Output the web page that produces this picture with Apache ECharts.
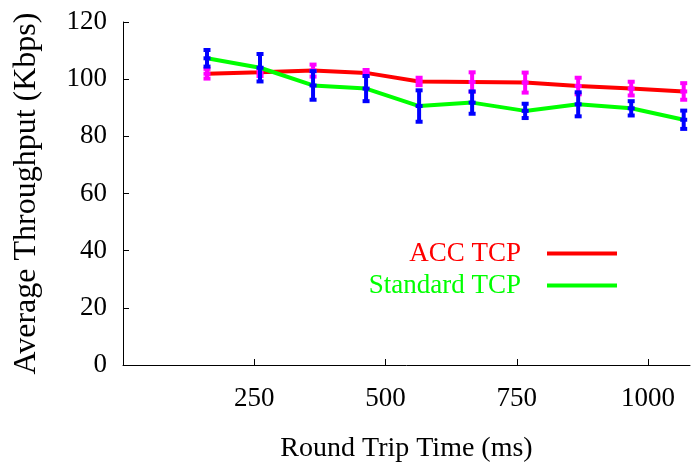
<!DOCTYPE html>
<html>
<head>
<meta charset="utf-8">
<script src="https://cdn.jsdelivr.net/npm/echarts@6/dist/echarts.min.js"></script>
<style>html,body{margin:0;padding:0;background:#fff}#c{width:700px;height:468px}</style>
</head>
<body>
<div id="c"></div>
<script>
// Data
var rtt = [160, 261, 362, 463, 564, 665, 766, 867, 968, 1068];
var accMean = [101.9, 102.4, 103.0, 102.2, 99.2, 99.0, 98.8, 97.6, 96.7, 95.7];
var accErr = [1.7, 1.3, 2.1, 1.0, 1.3, 3.4, 3.5, 2.9, 2.4, 2.9];
var stdMean = [107.3, 104.0, 97.8, 96.7, 90.6, 91.8, 88.9, 91.2, 89.8, 85.8];
var stdErr = [2.9, 4.8, 5.0, 4.4, 5.5, 3.9, 2.5, 4.2, 2.5, 3.2];
var xTicks = [250, 500, 750, 1000];
var seriesNames = ['ACC TCP', 'Standard TCP'];

var FONT = 'Liberation Serif';
var RED = '#ff0000', GREEN = '#00ff00', BLUE = '#0000ff', MAGENTA = '#ff00ff';

function pairs(xs, ys) { return xs.map(function (x, i) { return [x, ys[i]]; }); }
function errData(xs, m, e) { return xs.map(function (x, i) { return [x, m[i] - e[i], m[i] + e[i], m[i]]; }); }
function errRender(color) {
  return function (params, api) {
    var x = api.value(0), lo = api.value(1), hi = api.value(2), mid = api.value(3);
    var a = api.coord([x, lo]), b = api.coord([x, hi]), c = api.coord([x, mid]);
    return {
      type: 'group',
      children: [
        { type: 'line', shape: { x1: a[0], y1: a[1], x2: b[0], y2: b[1] }, style: { stroke: color, lineWidth: 4 } },
        { type: 'rect', shape: { x: a[0] - 3.5, y: a[1] - 2, width: 7, height: 4 }, style: { fill: color } },
        { type: 'rect', shape: { x: b[0] - 3.5, y: b[1] - 2, width: 7, height: 4 }, style: { fill: color } },
        { type: 'rect', shape: { x: c[0] - 3.5, y: c[1] - 2, width: 7, height: 4 }, style: { fill: color } }
      ]
    };
  };
}

var chart = echarts.init(document.getElementById('c'), null, { renderer: 'canvas' });
chart.setOption({
  animation: false,
  backgroundColor: '#ffffff',
  textStyle: { fontFamily: FONT },
  grid: { left: 123, right: 10, top: 22, bottom: 101, containLabel: false },
  legend: {
    orient: 'vertical',
    align: 'right',
    right: 83,
    top: 240,
    padding: 0,
    itemWidth: 70,
    itemHeight: 4,
    itemGap: 5,
    icon: 'rect',
    textStyle: { fontFamily: FONT, fontSize: 27, padding: [0, 21, 0, 0] },
    data: [
      { name: seriesNames[0], textStyle: { color: RED } },
      { name: seriesNames[1], textStyle: { color: GREEN } }
    ]
  },
  xAxis: {
    type: 'value',
    min: 0, max: 1080,
    name: 'Round Trip Time (ms)',
    nameLocation: 'middle',
    nameGap: 70,
    nameTextStyle: { fontFamily: FONT, fontSize: 28, color: '#000' },
    axisLine: { show: true, lineStyle: { color: '#000', width: 1 } },
    axisTick: { show: true, inside: true, length: 6, lineStyle: { color: '#000' }, customValues: xTicks },
    axisLabel: {
      show: true, fontFamily: FONT, fontSize: 27, color: '#000', margin: 20, customValues: xTicks,
      formatter: function (v) { return String(v); }
    },
    splitLine: { show: false }
  },
  yAxis: {
    type: 'value',
    min: 0, max: 120, interval: 20,
    name: 'Average Throughput (Kbps)',
    nameLocation: 'middle',
    nameGap: 80,
    nameRotate: 90,
    nameTextStyle: { fontFamily: FONT, fontSize: 32, color: '#000' },
    axisLine: { show: true, lineStyle: { color: '#000', width: 1 } },
    axisTick: { show: true, inside: true, length: 6, lineStyle: { color: '#000' } },
    axisLabel: { fontFamily: FONT, fontSize: 27, color: '#000', margin: 16, padding: [5, 0, 0, 0] },
    splitLine: { show: false }
  },
  series: [
    {
      name: seriesNames[0], type: 'line', data: pairs(rtt, accMean),
      symbol: 'none', color: RED, lineStyle: { color: RED, width: 4 }, z: 2
    },
    {
      name: 'accErr', type: 'custom', data: errData(rtt, accMean, accErr),
      renderItem: errRender(MAGENTA), z: 3
    },
    {
      name: seriesNames[1], type: 'line', data: pairs(rtt, stdMean),
      symbol: 'none', color: GREEN, lineStyle: { color: GREEN, width: 4 }, z: 4
    },
    {
      name: 'stdErr', type: 'custom', data: errData(rtt, stdMean, stdErr),
      renderItem: errRender(BLUE), z: 5
    }
  ]
});
</script>
</body>
</html>
